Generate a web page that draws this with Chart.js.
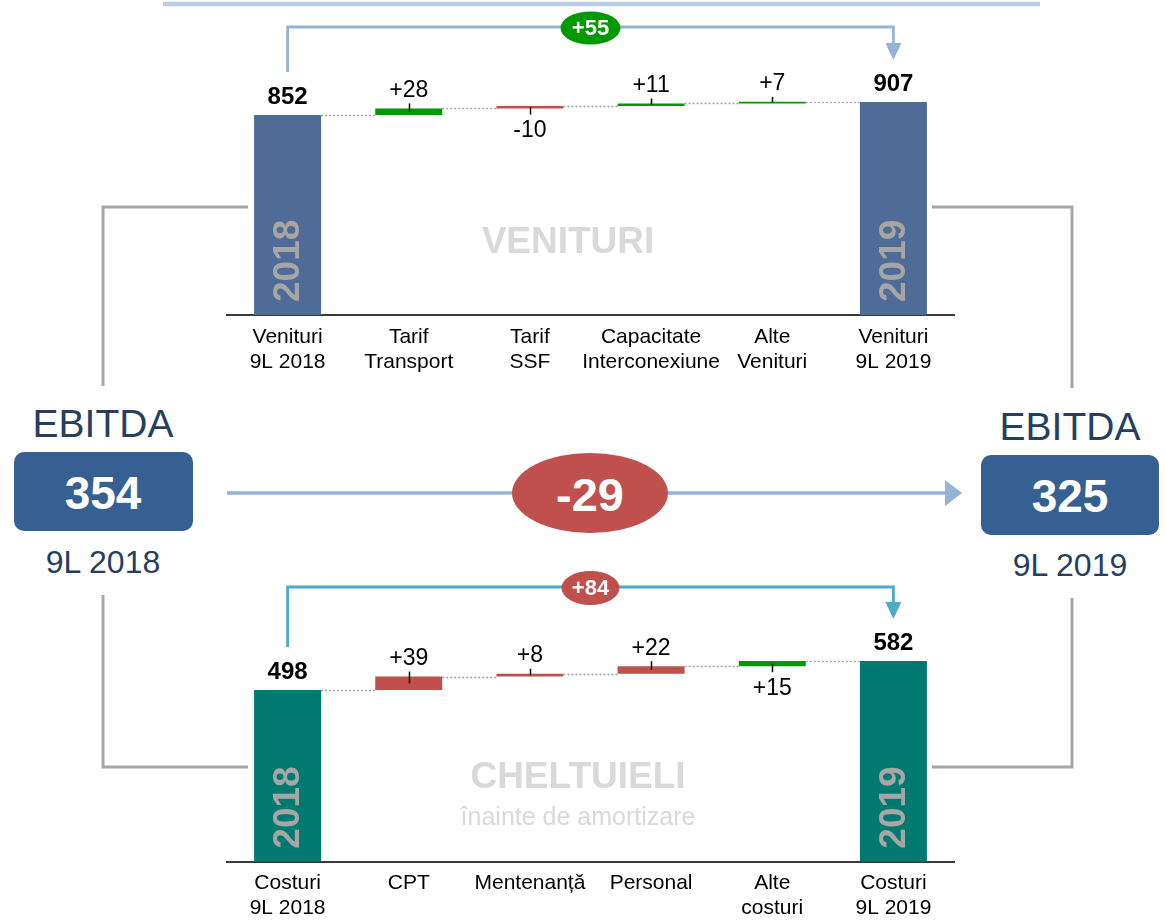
<!DOCTYPE html>
<html><head><meta charset="utf-8">
<script src="https://cdn.jsdelivr.net/npm/chart.js@4.4.1/dist/chart.umd.min.js"></script>
<style>
html,body{margin:0;padding:0;background:#fff;width:1166px;height:923px;overflow:hidden;font-family:"Liberation Sans",Arial,sans-serif;}
#bg{position:absolute;left:0;top:0}
#c1{position:absolute;left:0;top:0}
#c2{position:absolute;left:0;top:400px}
</style></head><body>
<svg id="bg" width="1166" height="923" xmlns="http://www.w3.org/2000/svg"></svg>
<canvas id="c1" width="1166" height="400"></canvas>
<canvas id="c2" width="1166" height="523"></canvas>
<script>
// ---------------- DATA ----------------
const topCategories = [['Venituri','9L 2018'],['Tarif','Transport'],['Tarif','SSF'],['Capacitate','Interconexiune'],['Alte','Venituri'],['Venituri','9L 2019']];
const topStart = [0, 852, 880, 890, 901, 0];
const topEnd = [852, 880, 890, 901, 908, 907];
const topValueLabels = ['852','+28','-10','+11','+7','907'];
const topLabelBelow = [false, false, true, false, false, false];
const topYears = ['2018','2019'];
const topChange = '+55';
const topTitle = 'VENITURI';

const botCategories = [['Costuri','9L 2018'],'CPT','Mentenanță','Personal',['Alte','costuri'],['Costuri','9L 2019']];
const botStart = [0, 498, 537, 545, 567, 0];
const botEnd = [498, 537, 545, 567, 582, 582];
const botValueLabels = ['498','+39','+8','+22','+15','582'];
const botLabelBelow = [false, false, false, false, true, false];
const botYears = ['2018','2019'];
const botChange = '+84';
const botTitle = 'CHELTUIELI';
const botSubtitle = 'înainte de amortizare';

const ebitdaTitle = 'EBITDA';
const ebitdaValues = ['354','325'];
const ebitdaPeriods = ['9L 2018','9L 2019'];
const ebitdaChange = '-29';

// ---------------- STYLE ----------------
const FONT = '"Liberation Sans", Arial, sans-serif';
const BLUE = '#4F6B98', TEAL = '#007A70', GREEN = '#009A00', RED = '#C0504D';
const topColors = [BLUE, GREEN, RED, GREEN, GREEN, BLUE];
const botColors = [TEAL, RED, RED, RED, GREEN, TEAL];

// ---------------- SVG background pieces ----------------
const svg = document.getElementById('bg');
const NS = 'http://www.w3.org/2000/svg';
function el(tag, attrs, text){
  const e = document.createElementNS(NS, tag);
  for (const k in attrs) e.setAttribute(k, attrs[k]);
  if (text !== undefined) e.textContent = text;
  svg.appendChild(e); return e;
}
el('line',{x1:163,y1:4,x2:1040,y2:4,stroke:'#B9CDE5','stroke-width':4.5});
const gray = {fill:'none',stroke:'#A6A6A6','stroke-width':3};
el('polyline',Object.assign({points:'248,207 103,207 103,386'},gray));
el('polyline',Object.assign({points:'103,595 103,767 248,767'},gray));
el('polyline',Object.assign({points:'932,207 1072,207 1072,388'},gray));
el('polyline',Object.assign({points:'1072,598 1072,767 932,767'},gray));
el('line',{x1:227,y1:493,x2:947,y2:493,stroke:'#95B3D7','stroke-width':3.5});
el('polygon',{points:'945,480 962,493 945,506',fill:'#95B3D7'});
el('ellipse',{cx:590,cy:493,rx:78,ry:40,fill:RED});
el('text',{x:590,y:494,'text-anchor':'middle','dominant-baseline':'central','font-family':FONT,'font-size':47,'font-weight':'bold',fill:'#fff'},ebitdaChange);
const boxes = [{cx:103,titleY:423,box:[14,452,179,79],valY:493,perY:562},{cx:1070,titleY:426,box:[981,455,178,80],valY:496,perY:565}];
boxes.forEach((b,i)=>{
  el('text',{x:b.cx,y:b.titleY,'text-anchor':'middle','dominant-baseline':'central','font-family':FONT,'font-size':39,fill:'#243F60'},ebitdaTitle);
  el('rect',{x:b.box[0],y:b.box[1],width:b.box[2],height:b.box[3],rx:10,ry:10,fill:'#376092'});
  el('text',{x:b.cx,y:b.valY,'text-anchor':'middle','dominant-baseline':'central','font-family':FONT,'font-size':46,'font-weight':'bold',fill:'#fff'},ebitdaValues[i]);
  el('text',{x:b.cx,y:b.perY,'text-anchor':'middle','dominant-baseline':'central','font-family':FONT,'font-size':32,fill:'#243F60'},ebitdaPeriods[i]);
});

// ---------------- waterfall plugin ----------------
function waterfallPlugin(o){
  return {
    id: 'wf' + o.id,
    beforeDatasetsDraw(chart){
      const ctx = chart.ctx; ctx.save();
      ctx.fillStyle = '#D9D9D9'; ctx.textAlign = 'center'; ctx.textBaseline = 'middle';
      o.watermarks.forEach(w => { ctx.font = w.font; ctx.fillText(w.text, w.x, w.y); });
      ctx.restore();
    },
    afterDatasetsDraw(chart){
      const ctx = chart.ctx;
      const bars = chart.getDatasetMeta(0).data;
      const ys = chart.scales.y;
      const n = bars.length;
      ctx.save();
      // dotted connectors
      ctx.strokeStyle = '#A0A0A0'; ctx.lineWidth = 1.3; ctx.setLineDash([2,2]);
      for (let i = 0; i < n-1; i++){
        const yy = Math.round(ys.getPixelForValue(o.end[i])) + 0.5;
        ctx.beginPath();
        ctx.moveTo(bars[i].x + bars[i].width/2, yy);
        ctx.lineTo(bars[i+1].x - bars[i+1].width/2, yy);
        ctx.stroke();
      }
      ctx.setLineDash([]);
      // labels and ticks
      for (let i = 0; i < n; i++){
        const b = bars[i];
        const top = Math.min(b.y, b.base), bot = Math.max(b.y, b.base);
        const isTotal = (i === 0 || i === n-1);
        ctx.fillStyle = '#000'; ctx.textAlign = 'center'; ctx.textBaseline = 'middle';
        ctx.font = (isTotal ? 'bold 24px ' : '23px ') + FONT;
        const mid = (top + bot) / 2;
        if (o.below[i]) ctx.fillText(o.labels[i], b.x, bot + 22);
        else ctx.fillText(o.labels[i], b.x, top - 18);
        if (!isTotal){
          ctx.strokeStyle = '#000'; ctx.lineWidth = 1.5;
          const xx = Math.round(b.x) + 0.5;
          ctx.beginPath();
          ctx.moveTo(xx, mid);
          ctx.lineTo(xx, o.below[i] ? bot + 6 : top - 5);
          ctx.stroke();
        }
      }
      // year labels on total bars
      ctx.fillStyle = '#A6A6A6'; ctx.font = 'bold 37px ' + FONT;
      [0, n-1].forEach((idx, k) => {
        const b = bars[idx];
        const bot = Math.max(b.y, b.base);
        ctx.save();
        ctx.translate(b.x, bot - 13);
        ctx.rotate(-Math.PI/2);
        ctx.textAlign = 'left'; ctx.textBaseline = 'middle';
        ctx.fillText(o.years[k], 0, 1);
        ctx.restore();
      });
      // bracket with arrow
      const b0 = bars[0], b1 = bars[n-1];
      const x0 = b0.x, x1 = b1.x;
      const y0 = Math.min(b0.y, b0.base) - 43;
      const tip = Math.min(b1.y, b1.base) - 42;
      const by = o.bracketY;
      ctx.strokeStyle = o.bracketColor; ctx.lineWidth = 2.8;
      ctx.beginPath();
      ctx.moveTo(x0, y0); ctx.lineTo(x0, by); ctx.lineTo(x1, by); ctx.lineTo(x1, tip - 15);
      ctx.stroke();
      ctx.fillStyle = o.bracketColor;
      ctx.beginPath(); ctx.moveTo(x1 - 8, tip - 17); ctx.lineTo(x1 + 8, tip - 17); ctx.lineTo(x1, tip); ctx.closePath(); ctx.fill();
      const cx = (x0 + x1) / 2;
      ctx.fillStyle = o.ellipseColor;
      ctx.beginPath(); ctx.ellipse(cx, by + 1, o.rx, o.ry, 0, 0, Math.PI*2); ctx.fill();
      ctx.fillStyle = '#fff'; ctx.font = 'bold 22px ' + FONT; ctx.textAlign = 'center'; ctx.textBaseline = 'middle';
      ctx.fillText(o.change, cx, by + 2);
      ctx.restore();
    }
  };
}

function makeChart(id, cats, start, end, colors, cfg, plugin){
  return new Chart(document.getElementById(id), {
    type: 'bar',
    data: {
      labels: cats,
      datasets: [{
        data: start.map((s, i) => [s, end[i]]),
        backgroundColor: colors,
        borderWidth: 0,
        barPercentage: 0.553,
        categoryPercentage: 1
      }]
    },
    options: {
      responsive: false, animation: false, devicePixelRatio: 1,
      layout: { padding: cfg.padding },
      plugins: { legend: { display: false }, tooltip: { enabled: false } },
      scales: {
        x: {
          grid: { display: false, drawTicks: false },
          border: { display: true, color: '#3A3A3A', width: 2 },
          ticks: { padding: 9.5, color: '#000', maxRotation: 0, autoSkip: false,
                   font: { family: FONT, size: 21, lineHeight: 1.19 } },
          afterFit(s){ s.height = cfg.xHeight; }
        },
        y: { display: false, min: 0, max: cfg.yMax }
      }
    },
    plugins: [plugin]
  });
}

makeChart('c1', topCategories, topStart, topEnd, topColors,
  { padding: { left: 227, right: 212, top: 315 - 1000 * (200/852), bottom: 15 }, xHeight: 70, yMax: 1000 },
  waterfallPlugin({ id: 1, end: topEnd, labels: topValueLabels, below: topLabelBelow, years: topYears,
    change: topChange, bracketY: 27, bracketColor: '#95B3D7', ellipseColor: GREEN, rx: 30, ry: 16.5,
    watermarks: [{ text: topTitle, x: 568, y: 243, font: 'bold 37px ' + FONT }] }));

makeChart('c2', botCategories, botStart, botEnd, botColors,
  { padding: { left: 227, right: 212, top: 461.7 - 700 * (171.7/498), bottom: 1.3 }, xHeight: 60, yMax: 700 },
  waterfallPlugin({ id: 2, end: botEnd, labels: botValueLabels, below: botLabelBelow, years: botYears,
    change: botChange, bracketY: 187, bracketColor: '#4BACC6', ellipseColor: RED, rx: 29, ry: 17,
    watermarks: [{ text: botTitle, x: 578, y: 378, font: 'bold 37px ' + FONT },
                 { text: botSubtitle, x: 578, y: 418, font: '25px ' + FONT }] }));
</script>
</body></html>
